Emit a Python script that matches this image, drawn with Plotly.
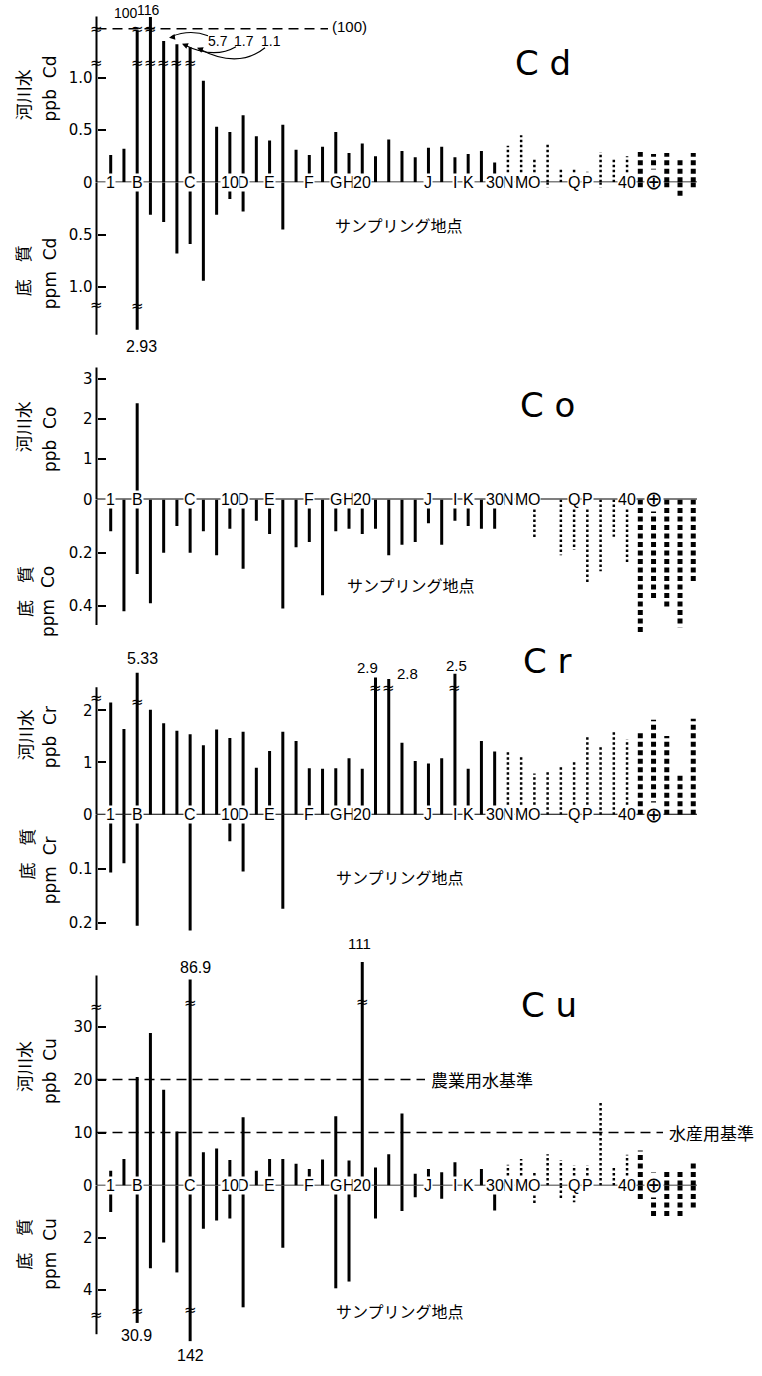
import plotly.graph_objects as go

W, H = 762, 1376

# ---------------- data (off-scale bars kept at their drawn height) ----------------
points = list(range(1, 46))
label_points = [1, 3, 7, 10, 11, 13, 16, 18, 19, 20, 25, 27, 28, 30, 31, 32, 33, 36, 37, 40, 42]
label_text = ["1", "B", "C", "10", "D", "E", "F", "G", "H", "20",
              "J", "I", "K", "30", "N", "M", "O", "Q", "P", "40", "⊕"]
point_style = ["solid"] * 30 + ["dot"] * 10 + ["bigdot"] * 5

cd_water = [0.26, 0.32, 1.45, 1.58, 1.35, 1.32, 1.29, 0.97, 0.53, 0.48,
            0.64, 0.44, 0.40, 0.55, 0.31, 0.26, 0.34, 0.48, 0.28, 0.37,
            0.25, 0.41, 0.30, 0.24, 0.33, 0.34, 0.24, 0.27, 0.30, 0.19,
            0.35, 0.45, 0.22, 0.37, 0.13, 0.14, 0.10, 0.29, 0.23, 0.25,
            0.29, 0.27, 0.28, 0.23, 0.28]
cd_sediment = [0, 0, 1.41, 0.31, 0.38, 0.68, 0.59, 0.94, 0.31, 0.16,
               0.28, 0, 0, 0.45, 0, 0, 0, 0, 0, 0,
               0, 0, 0, 0, 0, 0, 0, 0, 0, 0,
               0.05, 0, 0, 0.05, 0, 0, 0, 0.05, 0, 0,
               0.05, 0, 0.07, 0.13, 0.06]

co_water = [0, 0, 2.39, 0, 0, 0, 0, 0, 0, 0,
            0, 0, 0, 0, 0, 0, 0, 0, 0, 0,
            0, 0, 0, 0, 0, 0, 0, 0, 0, 0,
            0, 0, 0, 0, 0, 0, 0, 0, 0, 0,
            0, 0, 0, 0, 0]
co_sediment = [0.12, 0.42, 0.28, 0.39, 0.20, 0.10, 0.20, 0.12, 0.21, 0.11,
               0.26, 0.08, 0.13, 0.41, 0.18, 0.16, 0.36, 0.12, 0.11, 0.13,
               0.11, 0.21, 0.17, 0.16, 0.09, 0.17, 0.08, 0.10, 0.11, 0.11,
               0, 0, 0.15, 0, 0.21, 0.19, 0.32, 0.27, 0.14, 0.24,
               0.50, 0.38, 0.41, 0.48, 0.32]

cr_water = [2.15, 1.64, 2.72, 2.01, 1.75, 1.61, 1.54, 1.33, 1.63, 1.47,
            1.59, 0.90, 1.22, 1.59, 1.41, 0.89, 0.88, 0.89, 1.08, 0.88,
            2.63, 2.60, 1.38, 1.03, 0.98, 1.08, 2.70, 0.88, 1.41, 1.21,
            1.22, 1.13, 0.79, 0.82, 0.95, 1.05, 1.49, 1.33, 1.62, 1.44,
            1.59, 1.82, 1.51, 0.78, 1.84]
cr_sediment = [0.107, 0.090, 0.205, 0, 0, 0, 0.214, 0, 0, 0.049,
               0.105, 0, 0, 0.174, 0, 0, 0, 0, 0, 0,
               0, 0, 0, 0, 0, 0, 0, 0, 0, 0,
               0, 0, 0, 0, 0, 0, 0, 0, 0, 0,
               0, 0, 0, 0, 0]

cu_water = [2.8, 5.0, 20.5, 28.8, 18.1, 10.2, 38.9, 6.3, 7.0, 4.8,
            12.9, 2.8, 5.0, 5.0, 4.1, 3.1, 4.9, 13.1, 4.7, 42.2,
            3.4, 5.9, 13.6, 2.2, 3.1, 2.5, 4.4, 0, 3.1, 0,
            3.9, 5.0, 2.5, 5.9, 4.8, 3.8, 3.8, 15.9, 3.4, 5.8,
            6.6, 2.8, 2.8, 2.7, 4.8]
cu_sediment = [1.02, 0, 5.28, 3.18, 2.19, 3.34, 5.98, 1.66, 1.34, 1.27,
               4.68, 0, 0, 2.39, 0, 0, 0, 3.95, 3.69, 0,
               1.27, 0, 0.98, 0.45, 0, 0.51, 0.19, 0, 0, 0.96,
               0, 0, 0.73, 0, 0.51, 0.64, 0.38, 0, 0, 0,
               0.57, 1.31, 1.31, 1.21, 0.89]

# off-scale values written beside the broken bars: (text, x px, y px, font size)
cd_offscale = [("100", 126, 13, 14), ("116", 148, 10, 14), ("5.7", 218, 41, 14), ("1.7", 244, 41, 14),
               ("1.1", 271, 41, 14), ("2.93", 141, 349, 16), ("(100)", 349, 27, 15)]
cr_offscale = [("5.33", 142, 663, 16), ("2.9", 367, 672, 15), ("2.8", 407, 678, 15), ("2.5", 456, 670, 15)]
cu_offscale = [("86.9", 195, 974, 16), ("111", 359, 950, 15), ("30.9", 136, 1344, 16), ("142", 190, 1364, 16)]

cu_standards = [20, 10]
cu_standard_names = ["農業用水基準", "水産用基準"]

# ---------------- helpers ----------------
def px(x):
    return x / W


def py(y):
    return 1 - y / H


AXIS_X = 96.5
ZERO_END = 697
X0_PIX, STEP = 110.7, 13.24
x_range = [1 - X0_PIX / STEP, 1 + (W - X0_PIX) / STEP]

panels = [
    dict(sym="C d", el="Cd", water=cd_water, sed=cd_sediment, zero=183.5, up=105.3, lo=105.3,
         top=16.7, bot=337, dtop=3, dbot=352,
         upt=[0, 0.5, 1.0], uptt=["0", "0.5", "1.0"], lot=[0.5, 1.0], lott=["0.5", "1.0"],
         title=(543, 63), samp=(399, 226),
         yt=[(22, 96), (50, 89), (22, 273), (50, 275)],
         brk=[("up", None, 1.144), ("up", None, 1.467), ("up", 3, 1.467), ("up", 4, 1.467),
              ("up", 3, 1.144), ("up", 4, 1.144), ("up", 5, 1.144), ("up", 6, 1.144), ("up", 7, 1.144),
              ("lo", None, 1.173), ("lo", 3, 1.18)],
         off=cd_offscale),
    dict(sym="C o", el="Co", water=co_water, sed=co_sediment, zero=502.7, up=40.5, lo=268,
         top=370, bot=629, dtop=362, dbot=645,
         upt=[0, 1, 2, 3], uptt=["0", "1", "2", "3"], lot=[0.2, 0.4], lott=["0.2", "0.4"],
         title=(547, 408), samp=(411, 589),
         yt=[(22, 430), (50, 443), (24, 596), (48, 606)],
         brk=[], off=[]),
    dict(sym="C r", el="Cr", water=cr_water, sed=cr_sediment, zero=820, up=52.5, lo=545,
         top=691.7, bot=936, dtop=660, dbot=945,
         upt=[0, 1, 2], uptt=["0", "1", "2"], lot=[0.1, 0.2], lott=["0.1", "0.2"],
         title=(547, 665), samp=(400, 883),
         yt=[(24, 740), (50, 742), (26, 860), (50, 876)],
         brk=[("up", None, 2.23), ("up", 3, 2.16), ("up", 21, 2.42), ("up", 22, 2.42), ("up", 27, 2.42)],
         off=cr_offscale),
    dict(sym="C u", el="Cu", water=cu_water, sed=cu_sediment, zero=1193.3, up=5.33, lo=26.2,
         top=982, bot=1343, dtop=955, dbot=1366,
         upt=[0, 10, 20, 30], uptt=["0", "10", "20", "30"], lot=[2, 4], lott=["2", "4"],
         title=(549, 1012), samp=(400, 1320),
         yt=[(24, 1074), (50, 1078), (24, 1253), (50, 1262)],
         brk=[("up", None, 33.8), ("up", 7, 34.4), ("up", 20, 34.7),
              ("lo", None, 4.96), ("lo", 3, 4.84), ("lo", 7, 4.77)],
         off=cu_offscale),
]

line_styles = {
    "solid": dict(width=3, dash="solid"),
    "dot": dict(width=2.5, dash="2.5px,2.5px"),
    "bigdot": dict(width=5, dash="5px,3.5px"),
}

fig = go.Figure()
layout_axes = {}
shapes = []
annotations = []

TICKFONT = dict(family="DejaVu Sans", size=15, color="black")
CJK = "Noto Sans CJK JP"
LBL = "Liberation Sans"


def note(**kw):
    base = dict(showarrow=False, xanchor="center", yanchor="middle")
    base.update(kw)
    annotations.append(base)


def segments(vals, style):
    xs, ys = [], []
    for p, v, s in zip(points, vals, point_style):
        if s == style and v > 0:
            xs += [p, p, None]
            ys += [0, v, None]
    return xs, ys


# single letters first so that two-digit labels sit on top of their neighbours' boxes
label_order = sorted(range(len(label_points)), key=lambda i: len(label_text[i]) > 1 and label_text[i] != "⊕")

for k, pn in enumerate(panels):
    n_up, n_lo = 2 * k + 1, 2 * k + 2
    ref_up = "y" if n_up == 1 else f"y{n_up}"
    ref_lo = f"y{n_lo}"
    key_up = "yaxis" if n_up == 1 else f"yaxis{n_up}"
    key_lo = f"yaxis{n_lo}"
    zero = pn["zero"]
    up_max = (zero - pn["dtop"]) / pn["up"]
    lo_max = (pn["dbot"] - zero) / pn["lo"]
    common = dict(anchor="free", position=px(AXIS_X), showgrid=False, zeroline=False,
                  showline=False, ticks="inside", ticklen=8, tickwidth=2, tickcolor="black",
                  tickmode="array", tickfont=TICKFONT, ticklabelstandoff=4, fixedrange=True)
    layout_axes[key_up] = dict(domain=[py(zero), py(pn["dtop"])], range=[0, up_max],
                               tickvals=pn["upt"], ticktext=pn["uptt"], **common)
    layout_axes[key_lo] = dict(domain=[py(pn["dbot"]), py(zero)], range=[lo_max, 0],
                               tickvals=pn["lot"], ticktext=pn["lott"], **common)

    # bars
    for vals, ref in ((pn["water"], ref_up), (pn["sed"], ref_lo)):
        for style, ls in line_styles.items():
            xs, ys = segments(vals, style)
            if xs:
                fig.add_trace(go.Scatter(x=xs, y=ys, mode="lines", xaxis="x", yaxis=ref,
                                         line=dict(color="black", **ls), showlegend=False,
                                         hoverinfo="skip"))

    # axis lines
    shapes.append(dict(type="line", xref="paper", yref=ref_up, x0=px(AXIS_X), x1=px(AXIS_X),
                       y0=0, y1=(zero - pn["top"]) / pn["up"], line=dict(color="black", width=2)))
    shapes.append(dict(type="line", xref="paper", yref=ref_lo, x0=px(AXIS_X), x1=px(AXIS_X),
                       y0=0, y1=(pn["bot"] - zero) / pn["lo"], line=dict(color="black", width=2)))
    # zero line
    shapes.append(dict(type="line", xref="paper", yref=ref_up, x0=px(AXIS_X), x1=px(ZERO_END),
                       y0=0, y1=0, line=dict(color="black", width=1.6)))

    # sampling point labels on the zero line
    for i in label_order:
        p, t = label_points[i], label_text[i]
        note(x=p, y=0, xref="x", yref=ref_up, text=t,
             font=dict(family="DejaVu Sans" if t == "⊕" else LBL, size=21 if t == "⊕" else 16,
                       color="black"),
             bgcolor="white", borderpad=0)

    # break marks
    for side, p, v in pn["brk"]:
        ref = ref_up if side == "up" else ref_lo
        if p is None:
            note(x=px(AXIS_X), y=v, xref="paper", yref=ref, text="≈",
                 font=dict(family="DejaVu Sans", size=15, color="black"))
        else:
            note(x=p, y=v, xref="x", yref=ref, text="≈",
                 font=dict(family="DejaVu Sans", size=15, color="black"))

    # titles
    note(x=px(pn["title"][0]), y=py(pn["title"][1]), xref="paper", yref="paper",
         text=pn["sym"], font=dict(family="DejaVu Sans", size=34, color="black"))
    note(x=px(pn["samp"][0]), y=py(pn["samp"][1]), xref="paper", yref="paper",
         text="サンプリング地点", font=dict(family=CJK, size=16, color="black"))
    ytexts = ["河川水", "ppb\u00a0\u00a0" + pn["el"], "底\u3000質", "ppm\u00a0\u00a0" + pn["el"]]
    yfonts = [CJK, "DejaVu Sans", CJK, "DejaVu Sans"]
    for (tx, ty), t, f in zip(pn["yt"], ytexts, yfonts):
        note(x=px(tx), y=py(ty), xref="paper", yref="paper", text=t, textangle=-90,
             font=dict(family=f, size=17, color="black"))

    # off-scale values
    for t, tx, ty, fs in pn["off"]:
        note(x=px(tx), y=py(ty), xref="paper", yref="paper", text=t,
             font=dict(family=LBL, size=fs, color="black"))

# Cd (100) dashed line
shapes.append(dict(type="line", xref="paper", yref="y", x0=px(AXIS_X), x1=px(328), y0=1.467, y1=1.467,
                   line=dict(color="black", width=1.5, dash="10px,6px")))

# Cd curved arrows from 5.7, 1.7, 1.1
curves = [((208, 36), (190, 29), (171, 37)),
          ((236, 47), (214, 60), (184, 45)),
          ((265, 48), (238, 70), (199, 49))]
for (x0, y0), (cx, cy), (x1, y1) in curves:
    shapes.append(dict(type="path", xref="paper", yref="paper",
                       path=f"M {px(x0)},{py(y0)} Q {px(cx)},{py(cy)} {px(x1)},{py(y1)}",
                       line=dict(color="black", width=1.2)))
for (hx, hy), (ax, ay) in [((169, 38), (7, -1)), ((182, 44), (7, 3)), ((197, 48), (7, 3))]:
    annotations.append(dict(x=px(hx), y=py(hy), xref="paper", yref="paper", text="",
                            showarrow=True, ax=ax, ay=ay, arrowhead=2, arrowsize=1,
                            arrowwidth=1.2, arrowcolor="black"))

# Cu standards
for val, name, xend in zip(cu_standards, cu_standard_names, [425, 663]):
    shapes.append(dict(type="line", xref="paper", yref="y7", x0=px(AXIS_X), x1=px(xend),
                       y0=val, y1=val, line=dict(color="black", width=1.5, dash="10px,6px")))
    note(x=px(xend + 4), y=val, xref="paper", yref="y7", text=name, xanchor="left",
         font=dict(family=CJK, size=17, color="black"))

fig.update_layout(
    width=W, height=H, autosize=False,
    margin=dict(l=0, r=0, t=0, b=0),
    paper_bgcolor="white", plot_bgcolor="white",
    showlegend=False,
    xaxis=dict(range=x_range, domain=[0, 1], visible=False, fixedrange=True),
    shapes=shapes, annotations=annotations,
    **layout_axes,
)

fig.write_html("out.html", config={"displayModeBar": False},
               post_script="document.body.style.margin='0';document.body.style.overflow='hidden';")
